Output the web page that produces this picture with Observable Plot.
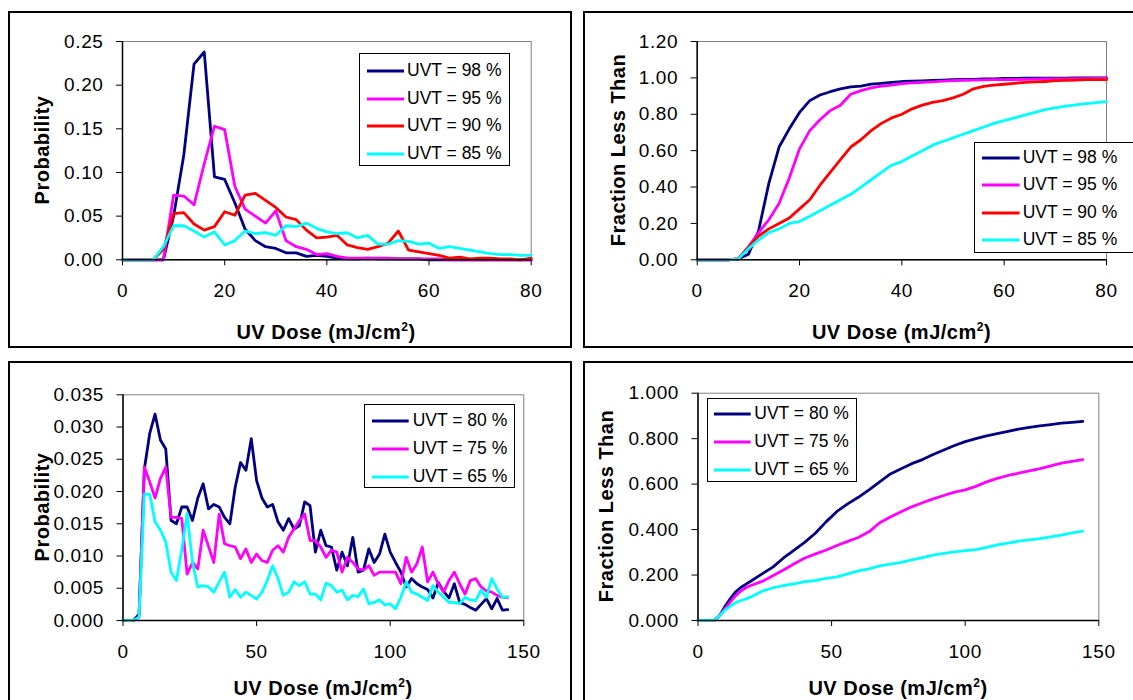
<!DOCTYPE html>
<html><head><meta charset="utf-8">
<script src="https://cdn.jsdelivr.net/npm/d3@7"></script>
<script src="https://cdn.jsdelivr.net/npm/@observablehq/plot@0.6"></script>
<style>
html,body{margin:0;padding:0;background:#fff;}
#page{position:relative;width:1133px;height:700px;overflow:hidden;font-family:"Liberation Sans",Arial,sans-serif;color:#000;background:#fff;}
.box{position:absolute;border:2px solid #000;box-sizing:border-box;}
.chart{position:absolute;}
.chart svg text{letter-spacing:0.6px;}
.legend{position:absolute;border:1px solid #000;background:#fff;box-sizing:border-box;}
.row{position:absolute;left:0;height:0;width:100%;}
.row svg{position:absolute;top:-3px;overflow:visible;}
.row span{position:absolute;top:0;font-size:17.5px;line-height:1;white-space:nowrap;transform:translateY(-50%);}
.ytitle{position:absolute;font-weight:bold;font-size:20px;white-space:nowrap;transform:translate(-50%,-50%) rotate(-90deg);line-height:1;letter-spacing:0.5px;}
.xtitle{position:absolute;font-weight:bold;font-size:20px;white-space:nowrap;transform:translateX(-50%);line-height:1;letter-spacing:0.5px;}
.xtitle sup{font-size:12px;vertical-align:0.65em;line-height:0;}
</style></head><body><div id="page"></div>
<script>
// ---------- data ----------
const doseA = [0,2,4,6,8,10,12,14,16,18,20,22,24,26,28,30,32,34,36,38,40,42,44,46,48,50,52,54,56,58,60,62,64,66,68,70,72,74,76,78,80];
const pdf98 = [0,0,0,0,0,0.05,0.12,0.224,0.238,0.095,0.092,0.065,0.035,0.022,0.015,0.013,0.008,0.008,0.004,0.005,0.004,0.002,0.001,0.001,0.002,0.001,0.001,0.001,0.001,0.001,0,0,0,0,0,0,0,0,0,0,0];
const pdf95 = [0,0,0,0,0,0.074,0.073,0.063,0.11,0.153,0.149,0.084,0.058,0.05,0.042,0.056,0.022,0.015,0.012,0.006,0.007,0.004,0.002,0.002,0.002,0.002,0.002,0.001,0.001,0.001,0.001,0.001,0,0,0,0,0,0,0,0,0];
const pdf90 = [0,0,0,0,0.012,0.053,0.054,0.041,0.034,0.038,0.055,0.051,0.074,0.076,0.068,0.06,0.049,0.046,0.034,0.025,0.026,0.028,0.017,0.014,0.012,0.015,0.019,0.033,0.011,0.009,0.007,0.005,0.002,0.003,0.001,0.002,0.002,0.001,0.001,0,0.002];
const pdf85 = [0,0,0,0,0.015,0.039,0.039,0.033,0.026,0.032,0.017,0.022,0.033,0.03,0.031,0.028,0.039,0.038,0.042,0.036,0.032,0.03,0.031,0.025,0.028,0.018,0.018,0.022,0.021,0.018,0.019,0.013,0.015,0.013,0.011,0.009,0.007,0.006,0.006,0.005,0.005];

const cdf98 = [0,0,0,0,0.005,0.03,0.16,0.42,0.62,0.72,0.81,0.875,0.906,0.924,0.94,0.95,0.955,0.966,0.97,0.975,0.98,0.982,0.984,0.986,0.988,0.99,0.991,0.992,0.994,0.995,0.997,0.997,0.998,0.998,0.999,0.999,0.999,1,1,1,1];
const cdf95 = [0,0,0,0,0.005,0.07,0.15,0.22,0.31,0.45,0.61,0.71,0.77,0.82,0.85,0.91,0.93,0.945,0.955,0.96,0.968,0.972,0.975,0.978,0.982,0.985,0.987,0.988,0.989,0.99,0.99,0.991,0.992,0.993,0.994,0.995,0.995,0.996,0.996,0.997,0.997];
const cdf90 = [0,0,0,0,0.005,0.07,0.13,0.17,0.2,0.23,0.28,0.33,0.41,0.48,0.55,0.62,0.66,0.71,0.75,0.78,0.8,0.83,0.85,0.865,0.875,0.89,0.91,0.94,0.953,0.96,0.965,0.97,0.975,0.978,0.98,0.985,0.987,0.988,0.99,0.99,0.99];
const cdf85 = [0,0,0,0,0.005,0.06,0.11,0.15,0.17,0.2,0.21,0.24,0.27,0.3,0.33,0.36,0.4,0.44,0.48,0.52,0.54,0.57,0.6,0.63,0.65,0.67,0.69,0.71,0.73,0.75,0.765,0.78,0.795,0.81,0.825,0.835,0.845,0.852,0.858,0.864,0.87];

const doseB = [0,2,4,6,8,10,12,14,16,18,20,22,24,26,28,30,32,34,36,38,40,42,44,46,48,50,52,54,56,58,60,62,64,66,68,70,72,74,76,78,80,82,84,86,88,90,92,94,96,98,100,102,104,106,108,110,112,114,116,118,120,122,124,126,128,130,132,134,136,138,140,142,144];
const pdf80 = [0,0,0,0.001,0.0235,0.029,0.032,0.028,0.0266,0.0155,
  0.015,0.0176,0.0176,0.0155,0.019,0.0212,0.0173,0.018,0.0176,0.016,
  0.015,0.0207,0.0245,0.0233,0.0282,0.0217,0.019,0.0176,0.018,0.0153,
  0.014,0.0158,0.0142,0.0147,0.0184,0.0178,0.0106,0.014,0.0116,0.0114,
  0.0078,0.0106,0.0085,0.0129,0.0075,0.0078,0.0111,0.009,0.0103,0.0134,
  0.0106,0.009,0.0075,0.0052,0.0065,0.0057,0.0052,0.0048,0.0035,0.0059,
  0.0045,0.0035,0.0057,0.0028,0.0025,0.002,0.0016,0.0025,0.0034,0.0018,
  0.0034,0.0016,0.0017];
const pdf75 = [0,0,0,0.0005,0.0238,0.0215,0.019,0.022,0.0238,0.016,
  0.016,0.0158,0.0072,0.009,0.008,0.014,0.0115,0.009,0.0165,0.0119,
  0.0116,0.0114,0.0096,0.0111,0.009,0.0103,0.0093,0.009,0.0109,0.0116,
  0.0106,0.0129,0.0142,0.0155,0.0165,0.0124,0.0124,0.0114,0.0098,0.0109,
  0.0106,0.0075,0.0098,0.009,0.008,0.0078,0.0085,0.007,0.0075,0.0075,
  0.0075,0.0075,0.0057,0.0098,0.0075,0.0088,0.0114,0.006,0.0075,0.0057,
  0.0044,0.0062,0.0075,0.0057,0.0041,0.0062,0.0065,0.0052,0.0046,0.0044,
  0.0039,0.0036,0.0036];
const pdf65 = [0,0,0,0.0005,0.0196,0.0196,0.0153,0.014,0.0122,0.0075,
  0.0062,0.011,0.0166,0.009,0.0052,0.0054,0.0052,0.0044,0.006,0.0075,
  0.0036,0.0048,0.0036,0.0044,0.0039,0.0033,0.0044,0.0062,0.0085,0.0065,
  0.0039,0.0044,0.006,0.0054,0.006,0.0041,0.0041,0.0032,0.0058,0.0054,
  0.0044,0.0047,0.0032,0.0039,0.0037,0.0049,0.0026,0.0028,0.0032,0.0024,
  0.0026,0.0018,0.0036,0.006,0.0044,0.0041,0.0036,0.0031,0.0054,0.0044,
  0.0036,0.0028,0.0028,0.0026,0.0036,0.0032,0.0031,0.0047,0.0036,0.0065,
  0.0049,0.0036,0.0037];

const doseC = [0,2,4,6,8,10,12,14,16,18,20,24,28,32,36,40,44,48,52,56,60,64,68,72,76,80,84,88,92,96,100,104,108,112,116,120,124,128,132,136,140,144];
const cdf80 = [0,0,0,0,0.02,0.06,0.095,0.125,0.145,0.16,0.175,0.205,0.235,0.275,0.31,0.345,0.385,0.435,0.48,0.513,0.542,0.575,0.61,0.645,0.668,0.69,0.708,0.73,0.75,0.77,0.787,0.8,0.812,0.822,0.832,0.842,0.85,0.856,0.862,0.868,0.872,0.876];
const cdf75 = [0,0,0,0,0.02,0.05,0.08,0.108,0.13,0.145,0.155,0.172,0.197,0.222,0.25,0.275,0.293,0.31,0.33,0.348,0.365,0.39,0.43,0.455,0.478,0.5,0.518,0.535,0.55,0.565,0.575,0.59,0.61,0.625,0.638,0.648,0.658,0.668,0.68,0.692,0.7,0.708];
const cdf65 = [0,0,0,0,0.02,0.045,0.062,0.078,0.088,0.095,0.105,0.129,0.144,0.154,0.161,0.171,0.176,0.185,0.192,0.205,0.218,0.227,0.24,0.248,0.256,0.267,0.277,0.288,0.295,0.302,0.307,0.312,0.322,0.333,0.34,0.349,0.355,0.36,0.368,0.376,0.385,0.393];

const labelsTop = ["UVT = 98 %","UVT = 95 %","UVT = 90 %","UVT = 85 %"];
const labelsBottom = ["UVT = 80 %","UVT = 75 %","UVT = 65 %"];
const colorsTop = ["#000080","#FF00FF","#FF0000","#00FFFF"];
const colorsBottom = ["#000080","#FF00FF","#00FFFF"];

const ticksXA = [0,20,40,60,80];
const ticksXB = [0,50,100,150];
const ticksY1 = [0,0.05,0.1,0.15,0.2,0.25];
const ticksY2 = [0,0.2,0.4,0.6,0.8,1.0,1.2];
const ticksY3 = [0,0.005,0.01,0.015,0.02,0.025,0.03,0.035];
const ticksY4 = [0,0.2,0.4,0.6,0.8,1.0];

// ---------- layout ----------
const page = document.getElementById("page");

function addBox(l,t,w,h){
  const d=document.createElement("div");d.className="box";
  Object.assign(d.style,{left:l+"px",top:t+"px",width:w+"px",height:h+"px"});
  page.appendChild(d);
}

function panel(cfg){
  const marks=[Plot.frame({stroke:"#808080",strokeWidth:1})];
  cfg.series.forEach((vals,k)=>{
    const rows=cfg.dose.map((x,i)=>({x, y: vals[i]}));
    marks.push(Plot.line(rows,{x:"x",y:"y",stroke:cfg.colors[k],strokeWidth:2.8,strokeLinejoin:"round"}));
  });
  marks.push(Plot.ruleX([cfg.xDomain[0]],{stroke:"#000",strokeWidth:1.5}));
  marks.push(Plot.ruleY([cfg.yDomain[0]],{stroke:"#000",strokeWidth:1.5}));
  marks.push(Plot.axisY(cfg.yTicks,{tickSize:6,tickPadding:13,tickFormat:d3.format(cfg.yFmt),label:null,fontSize:19}));
  marks.push(Plot.axisX(cfg.xTicks,{tickSize:6,tickPadding:18,tickFormat:d=>String(d),label:null,fontSize:19}));
  const svg=Plot.plot({
    width:cfg.w,height:cfg.h,
    marginLeft:cfg.m[0],marginRight:cfg.m[1],marginTop:cfg.m[2],marginBottom:cfg.m[3],
    style:{fontFamily:"'Liberation Sans', Arial, sans-serif",fontSize:"19px",color:"#000",background:"transparent",overflow:"visible"},
    x:{domain:cfg.xDomain},
    y:{domain:cfg.yDomain},
    marks
  });
  const wrap=document.createElement("div");wrap.className="chart";
  Object.assign(wrap.style,{left:cfg.left+"px",top:cfg.top+"px"});
  wrap.appendChild(svg);page.appendChild(wrap);

  // legend
  const L=cfg.legend;
  const lg=document.createElement("div");lg.className="legend";
  Object.assign(lg.style,{left:L.l+"px",top:L.t+"px",width:L.w+"px",height:L.h+"px"});
  cfg.labels.forEach((lab,k)=>{
    const r=document.createElement("div");r.className="row";r.style.top=(L.y0+k*L.dy)+"px";
    const s=document.createElementNS("http://www.w3.org/2000/svg","svg");
    s.setAttribute("width",L.lineW);s.setAttribute("height",6);
    s.style.left=L.lineX+"px";
    const ln=document.createElementNS("http://www.w3.org/2000/svg","line");
    ln.setAttribute("x1",0);ln.setAttribute("x2",L.lineW);ln.setAttribute("y1",3);ln.setAttribute("y2",3);
    ln.setAttribute("stroke",cfg.colors[k]);ln.setAttribute("stroke-width",3);
    s.appendChild(ln);r.appendChild(s);
    const sp=document.createElement("span");sp.textContent=lab;sp.style.left=L.textX+"px";
    r.appendChild(sp);lg.appendChild(r);
  });
  page.appendChild(lg);

  // titles
  const yt=document.createElement("div");yt.className="ytitle";yt.textContent=cfg.yTitle;
  Object.assign(yt.style,{left:cfg.yTitlePos[0]+"px",top:cfg.yTitlePos[1]+"px"});
  page.appendChild(yt);
  const xt=document.createElement("div");xt.className="xtitle";
  xt.innerHTML="UV Dose (mJ/cm<sup>2</sup>)";
  Object.assign(xt.style,{left:cfg.xTitlePos[0]+"px",top:cfg.xTitlePos[1]+"px"});
  page.appendChild(xt);
}

addBox(8,11,564,337);
addBox(583,11,560,337);
addBox(8,361,564,350);
addBox(583,361,560,350);

panel({left:8,top:12,w:564,h:336,m:[114,41.3,29,88.7],
  xDomain:[0,80],yDomain:[0,0.25],xTicks:ticksXA,yTicks:ticksY1,yFmt:".2f",
  dose:doseA,series:[pdf98,pdf95,pdf90,pdf85],colors:colorsTop,labels:labelsTop,
  legend:{l:359,t:53,w:151,h:113,y0:17,dy:27.6,lineX:7,lineW:37,textX:47},
  yTitle:"Probability",yTitlePos:[42,150],xTitlePos:[326,322]});

panel({left:584,top:12,w:549,h:336,m:[112.7,27,29,88.7],
  xDomain:[0,80],yDomain:[0,1.2],xTicks:ticksXA,yTicks:ticksY2,yFmt:".2f",
  dose:doseA,series:[cdf98,cdf95,cdf90,cdf85],colors:colorsTop,labels:labelsTop,
  legend:{l:974,t:141.7,w:170,h:111.6,y0:15,dy:27.6,lineX:6.7,lineW:37.6,textX:47.7},
  yTitle:"Fraction Less Than",yTitlePos:[618,150],xTitlePos:[901.5,322]});

panel({left:8,top:362,w:564,h:338,m:[114.5,48.7,32.3,80],
  xDomain:[0,150],yDomain:[0,0.035],xTicks:ticksXB,yTicks:ticksY3,yFmt:".3f",
  dose:doseB,series:[pdf80,pdf75,pdf65],colors:colorsBottom,labels:labelsBottom,
  legend:{l:364,t:404,w:151,h:84,y0:16,dy:28,lineX:7,lineW:36.7,textX:47.7},
  yTitle:"Probability",yTitlePos:[42,507],xTitlePos:[323,678]});

panel({left:584,top:362,w:549,h:338,m:[113.5,34.7,30.7,80],
  xDomain:[0,150],yDomain:[0,1],xTicks:ticksXB,yTicks:ticksY4,yFmt:".3f",
  dose:doseC,series:[cdf80,cdf75,cdf65],colors:colorsBottom,labels:labelsBottom,
  legend:{l:707,t:398,w:150,h:84,y0:15,dy:28,lineX:6.3,lineW:36.7,textX:46.3},
  yTitle:"Fraction Less Than",yTitlePos:[606,506],xTitlePos:[898,678]});
</script></body></html>
